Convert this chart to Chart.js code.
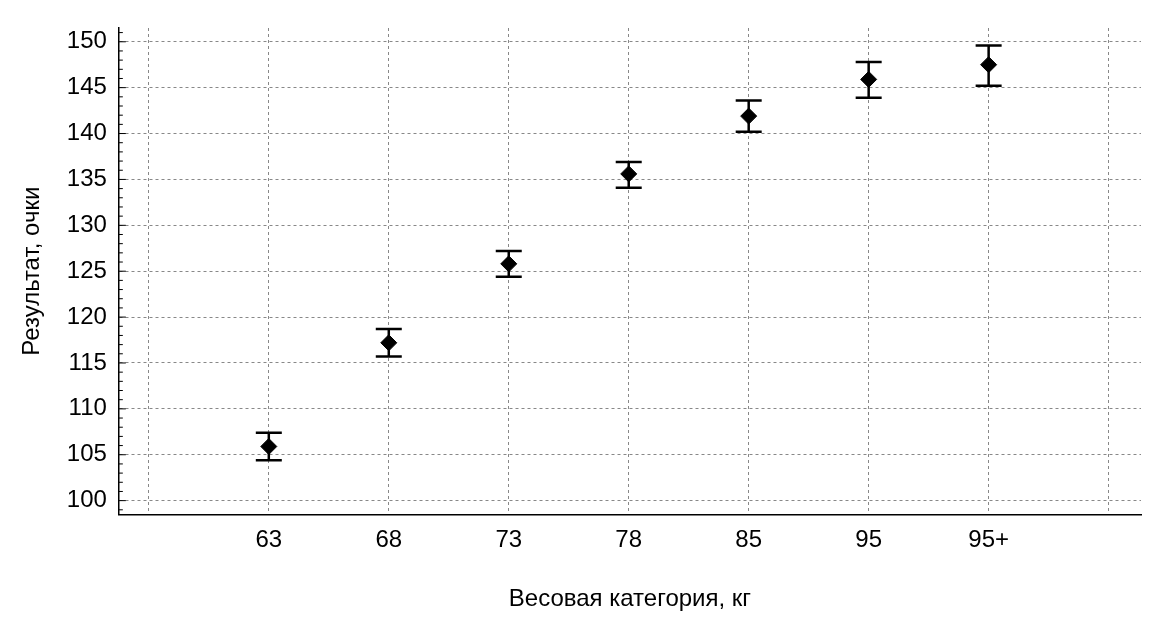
<!DOCTYPE html>
<html>
<head>
<meta charset="utf-8">
<script src="https://cdn.jsdelivr.net/npm/chart.js@4"></script>
<style>
  html, body { margin: 0; padding: 0; background: #fff; }
  #wrap { width: 1169px; height: 628px; }
</style>
</head>
<body>
<div id="wrap"><canvas id="c" width="1169" height="628"></canvas></div>
<script>
// weight categories and results (mean, upper, lower bounds)
const categories = ['63', '68', '73', '78', '85', '95', '95+'];
const means = [105.9, 117.2, 125.8, 135.6, 141.9, 145.9, 147.5];
const upper = [107.4, 118.7, 127.2, 136.9, 143.6, 147.8, 149.6];
const lower = [104.4, 115.7, 124.4, 134.1, 140.2, 143.9, 145.2];
const yTicks = [100, 105, 110, 115, 120, 125, 130, 135, 140, 145, 150];

const points = means.map((v, i) => ({ x: i + 1, y: v }));

// draws whiskers with caps from the upper/lower arrays
const errorBars = {
  id: 'errorBars',
  afterDatasetsDraw(chart) {
    const { ctx, scales: { x, y } } = chart;
    ctx.save();
    ctx.strokeStyle = '#000';
    ctx.lineWidth = 2.5;
    means.forEach((m, i) => {
      const px = x.getPixelForValue(i + 1);
      const top = y.getPixelForValue(upper[i]);
      const bot = y.getPixelForValue(lower[i]);
      ctx.beginPath();
      ctx.moveTo(px, top); ctx.lineTo(px, bot);
      ctx.moveTo(px - 13, top); ctx.lineTo(px + 13, top);
      ctx.moveTo(px - 13, bot); ctx.lineTo(px + 13, bot);
      ctx.stroke();
    });
    // minor ticks on the left axis
    ctx.lineWidth = 1;
    ctx.beginPath();
    for (let v = 99; v <= 151; v++) {
      const py = y.getPixelForValue(v);
      const len = v % 5 === 0 ? 7 : 4;
      ctx.moveTo(x.left, py); ctx.lineTo(x.left + len, py);
    }
    ctx.stroke();
    ctx.restore();
  }
};

const font = { family: 'Liberation Sans', size: 24 };

new Chart(document.getElementById('c'), {
  type: 'scatter',
  data: {
    datasets: [{
      data: points,
      pointStyle: 'rectRot',
      pointRadius: 8,
      pointHoverRadius: 8,
      backgroundColor: '#000',
      borderColor: '#000'
    }]
  },
  options: {
    responsive: false,
    animation: false,
    layout: { padding: { top: 28, right: 28, left: 14, bottom: 10 } },
    plugins: { legend: { display: false }, tooltip: { enabled: false } },
    scales: {
      x: {
        type: 'linear',
        min: -0.25,
        max: 8.27,
        afterBuildTicks: axis => { axis.ticks = [0, 1, 2, 3, 4, 5, 6, 7, 8].map(v => ({ value: v })); },
        ticks: {
          color: '#000',
          font,
          padding: 12,
          callback: v => categories[v - 1] || ''
        },
        grid: { color: '#888', drawTicks: false },
        border: { color: '#000', width: 1.5, dash: [3, 3] },
        title: { display: true, text: 'Весовая категория, кг', color: '#000', font, padding: { top: 18 } }
      },
      y: {
        min: 98.5,
        max: 151.5,
        afterBuildTicks: axis => { axis.ticks = yTicks.map(v => ({ value: v })); },
        ticks: { color: '#000', font, padding: 12 },
        grid: { color: '#888', drawTicks: false },
        border: { color: '#000', width: 1.5, dash: [3, 3] },
        title: { display: true, text: 'Результат, очки', color: '#000', font, padding: { bottom: 8 } }
      }
    }
  },
  plugins: [errorBars]
});
</script>
</body>
</html>
